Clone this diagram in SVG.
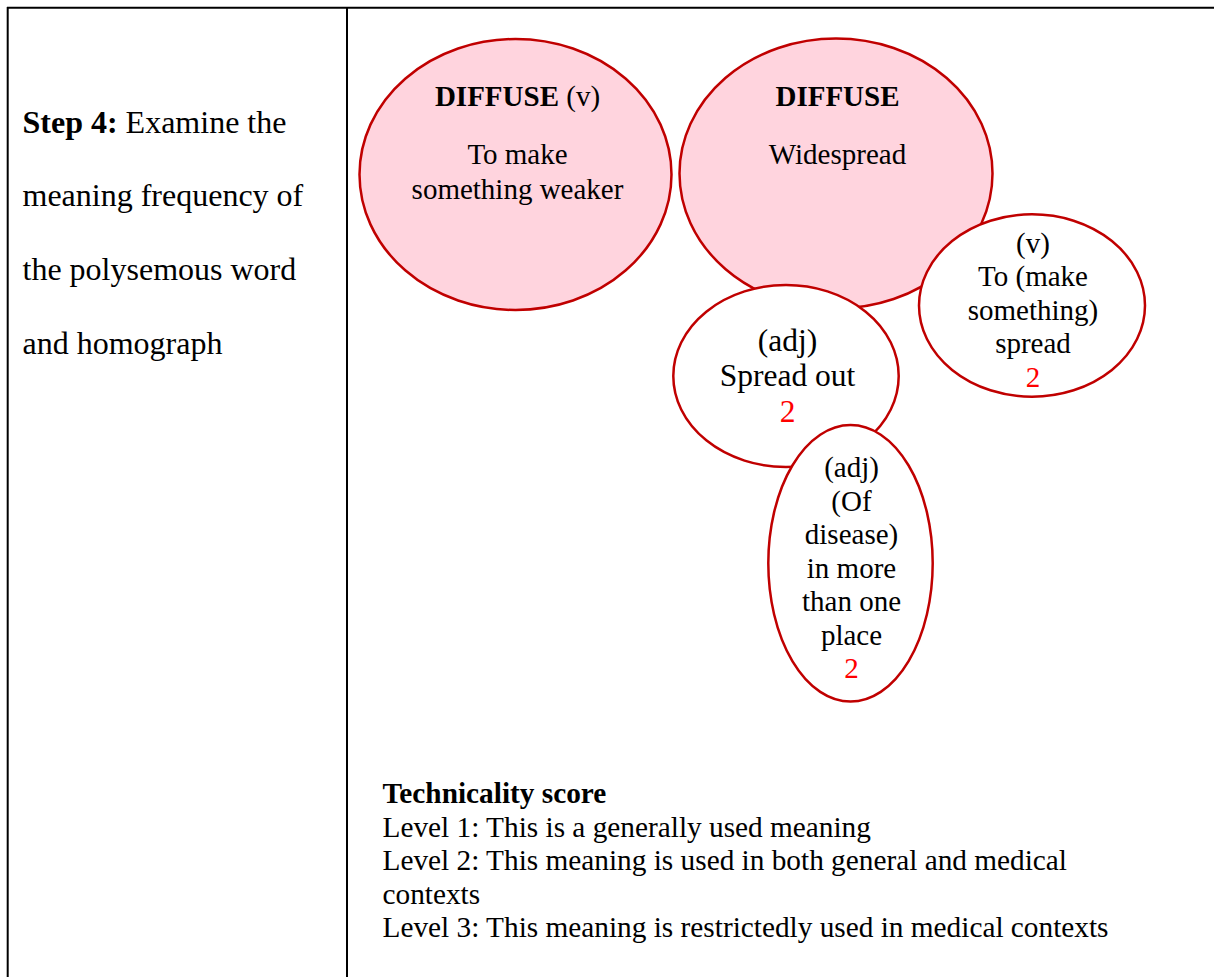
<svg xmlns="http://www.w3.org/2000/svg" width="1214" height="977" viewBox="0 0 1214 977">
  <style>
    .rule { stroke: #000; stroke-width: 2; fill: none; }
    .bubble { stroke: #C00000; stroke-width: 2.5; }
    .head { fill: #FFD4DE; }
    .sense { fill: #FFFFFF; }
    text { font-family: "Liberation Serif", "Times New Roman", serif; fill: #000; }
    .body { font-size: 29px; }
    .big { font-size: 31.5px; }
    .key { font-size: 29.3px; }
    .side { font-size: 32px; }
    .c { text-anchor: middle; }
    .b { font-weight: bold; }
    .score { fill: #FF0000; }
  </style>

  <!-- table frame -->
  <g id="table">
    <line class="rule" x1="7" y1="7.7" x2="1214" y2="7.7"/>
    <line class="rule" x1="7.7" y1="7" x2="7.7" y2="977"/>
    <line class="rule" x1="347" y1="7" x2="347" y2="977"/>
  </g>

  <!-- step description in the left cell -->
  <g id="step-label" class="side">
    <text x="22.5" y="132.5"><tspan class="b">Step 4:</tspan> Examine the</text>
    <text x="22.5" y="206.3">meaning frequency of</text>
    <text x="22.5" y="280">the polysemous word</text>
    <text x="22.5" y="353.7">and homograph</text>
  </g>

  <!-- no connectors: the senses touch and overlap -->
  <g id="connectors"></g>

  <g id="node-diffuse-v">
    <ellipse class="bubble head" cx="515.5" cy="174.5" rx="156" ry="135.5"/>
    <text class="body c" x="517.5" y="106"><tspan class="b">DIFFUSE</tspan> (v)</text>
    <text class="body c" x="517.5" y="164">To make</text>
    <text class="body c" x="517.5" y="198.5">something weaker</text>
  </g>

  <g id="node-diffuse">
    <ellipse class="bubble head" cx="836" cy="173.5" rx="156.5" ry="135"/>
    <text class="body c b" x="837.5" y="106">DIFFUSE</text>
    <text class="body c" x="837.5" y="163.5">Widespread</text>
  </g>

  <g id="node-v-spread">
    <ellipse class="bubble sense" cx="1032" cy="305.5" rx="113" ry="91.2"/>
    <text class="body c" x="1033" y="253">(v)</text>
    <text class="body c" x="1033" y="286">To (make</text>
    <text class="body c" x="1033" y="319.5">something)</text>
    <text class="body c" x="1033" y="353">spread</text>
    <text class="body c score" x="1033" y="387">2</text>
  </g>

  <g id="node-adj-spread-out">
    <ellipse class="bubble sense" cx="786" cy="376" rx="112.7" ry="91"/>
    <text class="big c" x="787.5" y="351">(adj)</text>
    <text class="big c" x="787.5" y="386">Spread out</text>
    <text class="big c score" x="787.5" y="422">2</text>
  </g>

  <g id="node-adj-disease">
    <ellipse class="bubble sense" cx="850.5" cy="563.3" rx="82.2" ry="138.3"/>
    <text class="body c" x="851.5" y="477">(adj)</text>
    <text class="body c" x="851.5" y="510.5">(Of</text>
    <text class="body c" x="851.5" y="544">disease)</text>
    <text class="body c" x="851.5" y="577.5">in more</text>
    <text class="body c" x="851.5" y="611">than one</text>
    <text class="body c" x="851.5" y="644.5">place</text>
    <text class="body c score" x="851.5" y="678">2</text>
  </g>

  <!-- scoring key -->
  <g id="legend" class="key">
    <text class="b" x="382.5" y="803">Technicality score</text>
    <text x="382.5" y="836.5">Level 1: This is a generally used meaning</text>
    <text x="382.5" y="870">Level 2: This meaning is used in both general and medical</text>
    <text x="382.5" y="903.5">contexts</text>
    <text x="382.5" y="937">Level 3: This meaning is restrictedly used in medical contexts</text>
  </g>
</svg>
